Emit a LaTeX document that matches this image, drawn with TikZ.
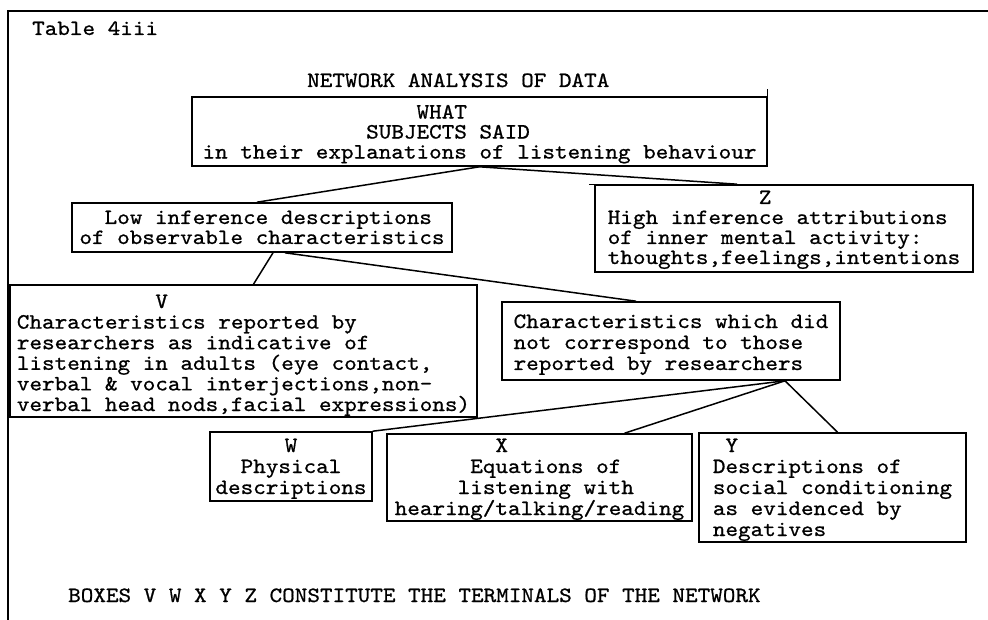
\documentclass[tikz,border=0pt]{standalone}
\usepackage{fontspec}
\newfontfamily\typew{lmmono10-regular.otf}[FakeStretch=1.1,FakeBold=0.8]
\newlength\cwd
\setlength\cwd{12.59pt}
\newcommand\pad[1]{\hspace*{#1\cwd}}
\newcommand\tp[1]{\rule{0pt}{#1pt}}
\newcommand\bt[1]{\rule[-#1pt]{0pt}{#1pt}}
\begin{document}
\begin{tikzpicture}[x=1pt,y=-1pt,
  box/.style={draw, line width=1.6pt, inner sep=0pt, align=left,
    font=\typew\fontsize{21.8}{#1}\selectfont},
  conn/.style={line width=1.5pt},
  lbl/.style={inner sep=0pt, anchor=base west, font=\typew\fontsize{21.8}{21}\selectfont}]
\useasboundingbox (0,0) rectangle (988,620);

% frame
\draw[line width=1.5pt] (988,11) -- (8,11) -- (8,620);

% texts
\node[lbl] (title) at (32,35) {Table 4iii};
\node[lbl] (head) at (307,87) {NETWORK ANALYSIS OF DATA};
\node[lbl] (foot) at (68,602) {BOXES V W X Y Z CONSTITUTE THE TERMINALS OF THE NETWORK};

% boxes
\node[box=20, minimum width=575, minimum height=69] (what) at (479.5,131.5)
  {\tp{19}\pad{17}WHAT\\\pad{13}SUBJECTS SAID\\in their explanations of listening behaviour\bt{4}};
\node[box=20, minimum width=380, minimum height=49] (low) at (262,227.5)
  {\tp{19}\pad{2}Low inference descriptions\\of observable characteristics\bt{6}};
\node[box=20, minimum width=378, minimum height=87] (z) at (784,228.5)
  {\tp{17}\pad{12}Z\\High inference attributions\\of inner mental activity:\\thoughts,feelings,intentions\bt{6}};
\node[box=20.6, minimum width=467, minimum height=132] (v) at (243.5,351)
  {\tp{22}\pad{11}V\\Characteristics reported by\\researchers as indicative of\\listening in adults (eye contact,\\verbal \& vocal interjections,non-\\verbal head nods,facial expressions)\bt{5}};
\node[box=21, minimum width=338, minimum height=78] (c) at (671,341)
  {\tp{22}Characteristics which did\\not correspond to those\\reported by researchers\bt{6}};
\node[box=21, align=center, minimum width=162, minimum height=69] (w) at (291,466.5)
  {\tp{19}W\\Physical\\descriptions\bt{6}};
\node[box=21, minimum width=305, minimum height=87] (x) at (539.5,477.5)
  {\tp{18}\pad{8}X\\\pad{6}Equations of\\\pad{5}listening with\\hearing/talking/reading\bt{6}};
\node[box=21, minimum width=267, minimum height=109] (y) at (832.5,487.5)
  {\tp{19}\pad{1}Y\\Descriptions of\\social conditioning\\as evidenced by\\negatives\bt{6}};

% small overshoots of hand-drawn box lines
\draw[line width=1.3pt] (what.north east) -- ++(0,-7);
\draw[line width=1.3pt] (z.north west) -- ++(-5,0);

% connectors
\draw[conn] (what.south) -- ([xshift=-5pt]low.north);
\draw[conn] (what.south) -- ([xshift=-47pt]z.north);
\draw[conn] ([xshift=11pt]low.south) -- ([xshift=10pt]v.north);
\draw[conn] ([xshift=23pt]low.south) -- ([xshift=-35pt]c.north);
\draw[conn] ([xshift=114pt]c.south) -- (w.north east);
\draw[conn] ([xshift=114pt]c.south) -- ([xshift=85pt]x.north);
\draw[conn] ([xshift=114pt]c.south) -- ([xshift=5pt]y.north);
\end{tikzpicture}
\end{document}
